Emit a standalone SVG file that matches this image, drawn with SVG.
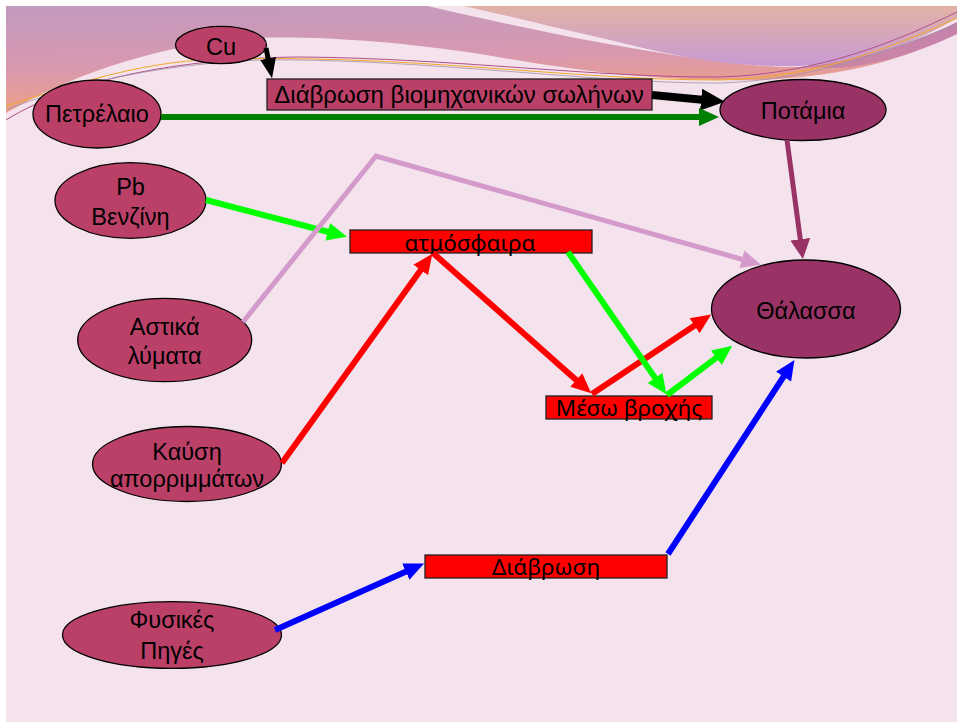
<svg xmlns="http://www.w3.org/2000/svg" width="957" height="722" viewBox="0 0 957 722">
<style>
.node{fill:#bb4068;stroke:#000;stroke-width:1.3}
.node2{fill:#993366;stroke:#000;stroke-width:1.3}
.rbox{fill:#ff0000;stroke:#222;stroke-width:1.3}
.t{font-family:"Liberation Sans",Arial,sans-serif;font-size:23.5px;fill:#000;text-anchor:middle}
.tt{font-family:"Liberation Sans",Arial,sans-serif;font-size:24px;fill:#000;text-anchor:middle}
.tn{font-family:"Noto Sans","Open Sans",sans-serif;font-size:22.5px;fill:#000;text-anchor:middle}
.c{fill:none;stroke-linecap:butt;stroke-linejoin:miter}
</style>
<defs>
<linearGradient id="gl" x1="0" y1="0" x2="0.25" y2="1">
<stop offset="0" stop-color="#c29abf"/>
<stop offset="0.55" stop-color="#d898b0"/>
<stop offset="1" stop-color="#f2a080"/>
</linearGradient>
<linearGradient id="gr" x1="0" y1="0" x2="0" y2="1">
<stop offset="0" stop-color="#e2b2a6"/>
<stop offset="1" stop-color="#c79ad2"/>
</linearGradient>
<marker id="aK" markerUnits="userSpaceOnUse" viewBox="0 -10 20 20" refX="1" refY="0" markerWidth="20" markerHeight="20" orient="auto"><path d="M0,-8 L20,0 L0,8 Z" fill="#000"/></marker>
<marker id="aK2" markerUnits="userSpaceOnUse" viewBox="0 -12 24 24" refX="1" refY="0" markerWidth="24" markerHeight="24" orient="auto"><path d="M0,-11 L24,0 L0,11 Z" fill="#000"/></marker>
<marker id="aDG" markerUnits="userSpaceOnUse" viewBox="0 -10 20 20" refX="1" refY="0" markerWidth="20" markerHeight="20" orient="auto"><path d="M0,-9 L20,0 L0,9 Z" fill="#008000"/></marker>
<marker id="aG" markerUnits="userSpaceOnUse" viewBox="0 -10 20 20" refX="1" refY="0" markerWidth="20" markerHeight="20" orient="auto"><path d="M0,-9 L20,0 L0,9 Z" fill="#00ff00"/></marker>
<marker id="aR" markerUnits="userSpaceOnUse" viewBox="0 -10 20 20" refX="1" refY="0" markerWidth="20" markerHeight="20" orient="auto"><path d="M0,-9 L20,0 L0,9 Z" fill="#ff0000"/></marker>
<marker id="aB" markerUnits="userSpaceOnUse" viewBox="0 -10 20 20" refX="1" refY="0" markerWidth="20" markerHeight="20" orient="auto"><path d="M0,-9 L20,0 L0,9 Z" fill="#0000ff"/></marker>
<marker id="aP" markerUnits="userSpaceOnUse" viewBox="0 -10 20 20" refX="1" refY="0" markerWidth="20" markerHeight="20" orient="auto"><path d="M0,-9 L20,0 L0,9 Z" fill="#d39acb"/></marker>
<marker id="aM" markerUnits="userSpaceOnUse" viewBox="0 -11 20 22" refX="1" refY="0" markerWidth="20" markerHeight="22" orient="auto"><path d="M0,-10 L20,0 L0,10 Z" fill="#993366"/></marker>
</defs>

<rect x="0" y="0" width="957" height="722" fill="#ffffff"/>
<rect x="6" y="6" width="951" height="716" fill="#f4e3ec"/>

<g id="decoration">
<path d="M6,6 H427 C480,18 560,36 620,46 C700,60 760,68 800,67 C870,60 930,36 957,22 V34 C900,60 850,76 760,80 C650,82 560,68 480,54 C400,42 320,36 260,38 C170,42 80,70 6,113 Z" fill="url(#gl)"/>
<path d="M463,6 H957 V18 C920,40 870,62 800,66 C720,68 660,52 610,40 C550,26 500,14 463,6 Z" fill="url(#gr)"/>
<path d="M800,67 C870,60 930,36 957,22 V34 C920,52 880,64 840,68 Z" fill="#c07aa6" opacity="0.7"/>
<path d="M6,120 C70,80 180,58 300,57 C450,58 600,78 720,77 C820,74 900,40 957,12" fill="none" stroke="#b0508a" stroke-width="1"/>
<path d="M6,106 C60,90 120,66 200,60 C400,52 560,80 720,80 C820,78 900,44 957,18" fill="none" stroke="#f0a828" stroke-width="1"/>
<path d="M6,110 C70,84 160,64 260,60 C420,58 600,84 720,83 C820,80 900,46 957,24" fill="none" stroke="#a090a8" stroke-width="0.8"/>
</g>

<g id="n-cu"><ellipse class="node" cx="221" cy="45" rx="45.5" ry="18.7"/><text class="t" x="221" y="55">Cu</text></g>
<g id="n-petrelaio"><ellipse class="node" cx="97" cy="114" rx="64" ry="34"/><text class="t" x="97" y="122">Πετρέλαιο</text></g>
<g id="n-pipes"><rect x="267" y="79" width="385" height="31" fill="#bb4068" stroke="#222" stroke-width="1.3"/><text class="tt" x="459" y="103">Διάβρωση βιομηχανικών σωλήνων</text></g>
<g id="n-potamia"><ellipse class="node2" cx="803" cy="110" rx="83" ry="30.5"/><text class="t" x="803" y="119">Ποτάμια</text></g>
<g id="n-pb"><ellipse class="node" cx="130.5" cy="200.5" rx="75.5" ry="37.8"/><text class="t" x="130.5" y="195">Pb</text><text class="t" x="130.5" y="225">Βενζίνη</text></g>
<g id="n-atm"><rect class="rbox" x="350" y="230" width="242" height="23"/><text class="tn" x="470" y="251">ατμόσφαιρα</text></g>
<g id="n-astika"><ellipse class="node" cx="164.7" cy="340" rx="87" ry="41.7"/><text class="t" x="164.7" y="335">Αστικά</text><text class="t" x="164.7" y="364">λύματα</text></g>
<g id="n-thalassa"><ellipse class="node2" cx="806" cy="309" rx="94.5" ry="49"/><text class="t" x="806" y="319">Θάλασσα</text></g>
<g id="n-rain"><rect class="rbox" x="546" y="396" width="166" height="23"/><text class="tn" x="629" y="416">Μέσω βροχής</text></g>
<g id="n-kausi"><ellipse class="node" cx="187" cy="464" rx="94.5" ry="37.5"/><text class="t" x="187" y="460">Καύση</text><text class="t" x="187" y="487">απορριμμάτων</text></g>
<g id="n-diavrosi"><rect class="rbox" x="425" y="555" width="242" height="23"/><text class="tn" x="546" y="575">Διάβρωση</text></g>
<g id="n-fysikes"><ellipse class="node" cx="172" cy="635" rx="109.5" ry="33.3"/><text class="t" x="172" y="628">Φυσικές</text><text class="t" x="172" y="659">Πηγές</text></g>

<g id="connectors" class="c">
<path d="M266,48 L268.3,59.5" stroke="#000" stroke-width="5" marker-end="url(#aK)"/>
<path d="M652,95 L702.1,99.7" stroke="#000" stroke-width="8" marker-end="url(#aK2)"/>
<path d="M161,117 L700,117" stroke="#008000" stroke-width="6" marker-end="url(#aDG)"/>
<path d="M206,200 L328.6,232" stroke="#00ff00" stroke-width="6" marker-end="url(#aG)"/>
<path d="M243,322 L376,156 L742.8,259.5" stroke="#d39acb" stroke-width="5" marker-end="url(#aP)"/>
<path d="M787,140 L800.4,240.2" stroke="#993366" stroke-width="5" marker-end="url(#aM)"/>
<path d="M282,463 L421.3,269.2" stroke="#ff0000" stroke-width="6" marker-end="url(#aR)"/>
<path d="M433,253 L577,380.7" stroke="#ff0000" stroke-width="6" marker-end="url(#aR)"/>
<path d="M592,394 L695.4,325.1" stroke="#ff0000" stroke-width="6" marker-end="url(#aR)"/>
<path d="M568,252 L655.6,378.6" stroke="#00ff00" stroke-width="6" marker-end="url(#aG)"/>
<path d="M667,395 L717.1,357.1" stroke="#00ff00" stroke-width="6" marker-end="url(#aG)"/>
<path d="M275,630 L406.7,571.2" stroke="#0000ff" stroke-width="6" marker-end="url(#aB)"/>
<path d="M668,554 L784.1,375.8" stroke="#0000ff" stroke-width="6" marker-end="url(#aB)"/>
</g>
</svg>
